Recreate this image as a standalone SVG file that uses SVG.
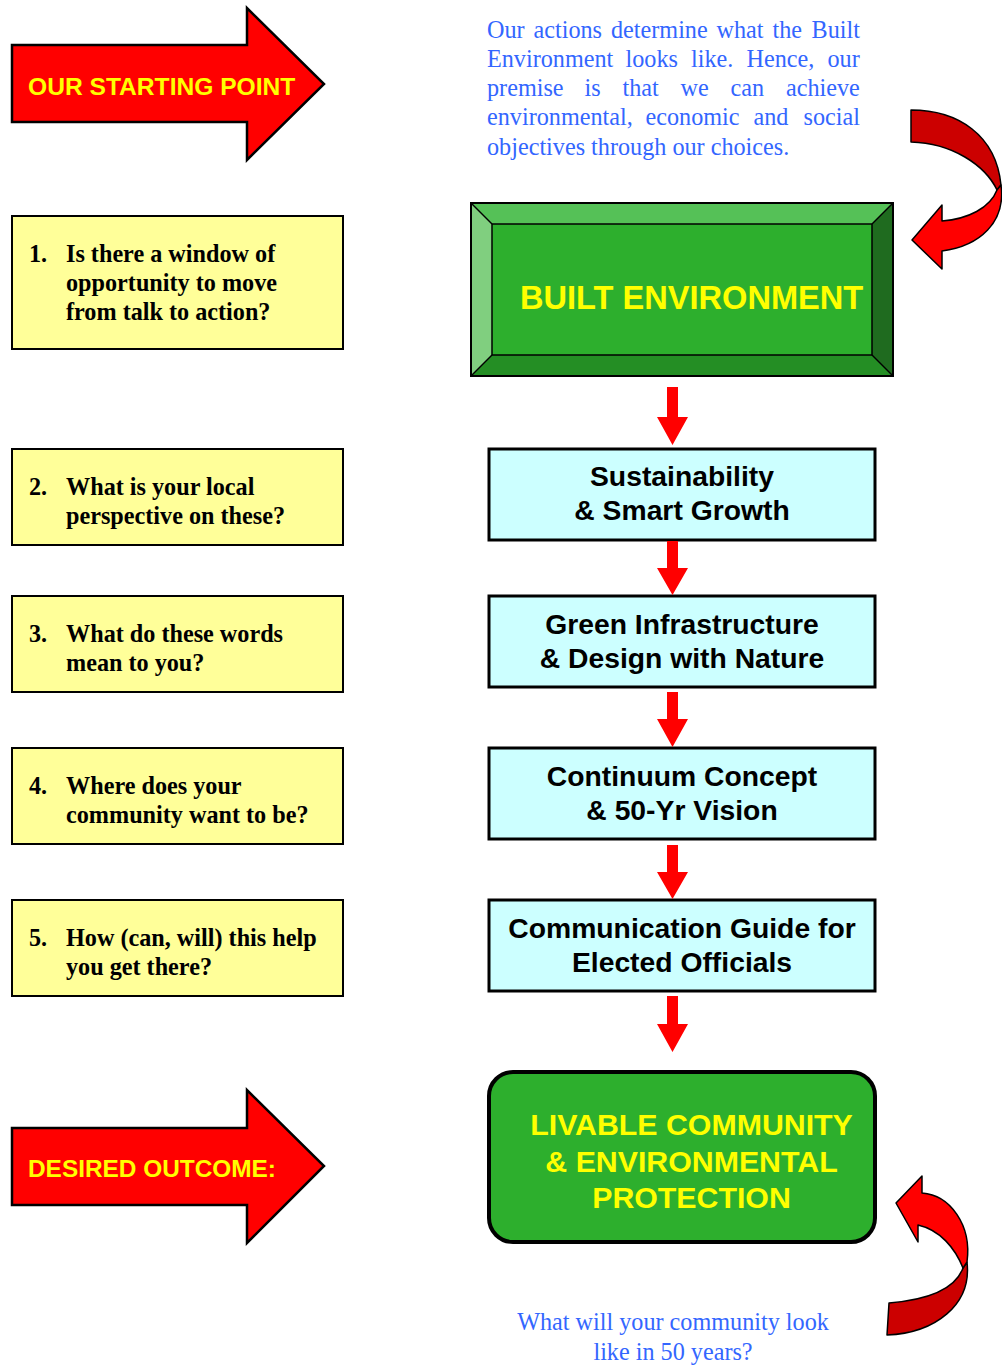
<svg xmlns="http://www.w3.org/2000/svg" width="1002" height="1366" viewBox="0 0 1002 1366">
<style>
.q{fill:#FFFF99;stroke:#000;stroke-width:2}
.qt{font-family:"Liberation Serif","Times New Roman",serif;font-weight:bold;font-size:24.2px;fill:#000}
.c{fill:#CCFFFF;stroke:#000;stroke-width:3}
.ct{font-family:"Liberation Sans",Arial,sans-serif;font-weight:bold;font-size:28.3px;fill:#000;text-anchor:middle}
.yt{font-family:"Liberation Sans",Arial,sans-serif;font-weight:bold;fill:#FFFF00}
.bt{font-family:"Liberation Serif","Times New Roman",serif;font-size:24.2px;fill:#3366FF}
.big{fill:#FF0000;stroke:#000;stroke-width:2.5;stroke-linejoin:miter}
.da{fill:#FF0000}
.cv{stroke:#000;stroke-width:1.5;stroke-linejoin:round}
</style>
<rect width="1002" height="1366" fill="#FFFFFF"/>

<g id="start">
<polygon class="big" points="12,45 247,45 247,8 324,84 247,160 247,122 12,122"/>
<text class="yt" x="28" y="95" font-size="24.6">OUR STARTING POINT</text>
</g>

<g id="premise">
<text class="bt" y="38"><tspan x="487">Our</tspan><tspan x="533.5">actions</tspan><tspan x="611">determine</tspan><tspan x="716.5">what</tspan><tspan x="772.5">the</tspan><tspan x="811.5">Built</tspan></text>
<text class="bt" y="67"><tspan x="487">Environment</tspan><tspan x="625.5">looks</tspan><tspan x="691">like.</tspan><tspan x="746.5">Hence,</tspan><tspan x="827.5">our</tspan></text>
<text class="bt" y="96"><tspan x="487">premise</tspan><tspan x="584.5">is</tspan><tspan x="622.5">that</tspan><tspan x="680.5">we</tspan><tspan x="730.5">can</tspan><tspan x="786">achieve</tspan></text>
<text class="bt" y="125"><tspan x="487">environmental,</tspan><tspan x="645.5">economic</tspan><tspan x="753.5">and</tspan><tspan x="803.5">social</tspan></text>
<text class="bt" x="487" y="155">objectives through our choices.</text>
</g>

<g id="curve-top">
<path class="cv" fill="#CC0000" d="M911,110 C958,110 996,135 1001,185 L997,190 C985,165 952,143 911,142 Z"/>
<path class="cv" fill="#FF0000" d="M997,190 L1001,185 C1006,222 980,246 942,251 L942,269 L912,240 L942,205 L942,221 C968,219 990,208 997,190 Z"/>
</g>

<g id="built">
<polygon fill="#55C157" points="471,203 893,203 872,224 492,224"/>
<polygon fill="#80CF7F" points="471,203 492,224 492,355 471,376"/>
<polygon fill="#1F6B1F" points="893,203 893,376 872,355 872,224"/>
<polygon fill="#248E24" points="471,376 492,355 872,355 893,376"/>
<rect x="492" y="224" width="380" height="131" fill="#2DAF2D" stroke="#000" stroke-width="1.5"/>
<g stroke="#000" stroke-width="1.5"><line x1="471" y1="203" x2="492" y2="224"/><line x1="893" y1="203" x2="872" y2="224"/><line x1="471" y1="376" x2="492" y2="355"/><line x1="893" y1="376" x2="872" y2="355"/></g>
<rect x="471" y="203" width="422" height="173" fill="none" stroke="#000" stroke-width="2"/>
<text class="yt" x="520" y="309" font-size="32.6">BUILT ENVIRONMENT</text>
</g>

<g id="q1">
<rect class="q" x="12" y="216" width="331" height="133"/>
<text class="qt"><tspan x="29" y="262">1.</tspan><tspan x="66" y="262">Is there a window of</tspan><tspan x="66" y="291">opportunity to move</tspan><tspan x="66" y="320">from talk to action?</tspan></text>
</g>
<g id="q2">
<rect class="q" x="12" y="449" width="331" height="96"/>
<text class="qt"><tspan x="29" y="495">2.</tspan><tspan x="66" y="495">What is your local</tspan><tspan x="66" y="524">perspective on these?</tspan></text>
</g>
<g id="q3">
<rect class="q" x="12" y="596" width="331" height="96"/>
<text class="qt"><tspan x="29" y="642">3.</tspan><tspan x="66" y="642">What do these words</tspan><tspan x="66" y="671">mean to you?</tspan></text>
</g>
<g id="q4">
<rect class="q" x="12" y="748" width="331" height="96"/>
<text class="qt"><tspan x="29" y="794">4.</tspan><tspan x="66" y="794">Where does your</tspan><tspan x="66" y="823">community want to be?</tspan></text>
</g>
<g id="q5">
<rect class="q" x="12" y="900" width="331" height="96"/>
<text class="qt"><tspan x="29" y="946">5.</tspan><tspan x="66" y="946">How (can, will) this help</tspan><tspan x="66" y="975">you get there?</tspan></text>
</g>

<g id="s1">
<rect class="c" x="489" y="449" width="386" height="91"/>
<text class="ct" x="682" y="486">Sustainability</text>
<text class="ct" x="682" y="520">&amp; Smart Growth</text>
</g>
<g id="s2">
<rect class="c" x="489" y="596" width="386" height="91"/>
<text class="ct" x="682" y="634">Green Infrastructure</text>
<text class="ct" x="682" y="668">&amp; Design with Nature</text>
</g>
<g id="s3">
<rect class="c" x="489" y="748" width="386" height="91"/>
<text class="ct" x="682" y="786">Continuum Concept</text>
<text class="ct" x="682" y="820">&amp; 50-Yr Vision</text>
</g>
<g id="s4">
<rect class="c" x="489" y="900" width="386" height="91"/>
<text class="ct" x="682" y="938">Communication Guide for</text>
<text class="ct" x="682" y="972">Elected Officials</text>
</g>

<g id="connectors">
<polygon class="da" points="667,387 678,387 678,417 688,417 672.5,445 657,417 667,417"/>
<polygon class="da" points="667,541 678,541 678,568 688,568 672.5,595 657,568 667,568"/>
<polygon class="da" points="667,692 678,692 678,719 688,719 672.5,747 657,719 667,719"/>
<polygon class="da" points="667,845 678,845 678,872 688,872 672.5,899 657,872 667,872"/>
<polygon class="da" points="667,996 678,996 678,1024 688,1024 672.5,1052 657,1024 667,1024"/>
</g>

<g id="outcome-arrow">
<polygon class="big" points="12,1128 247,1128 247,1090 324,1166 247,1243 247,1205 12,1205"/>
<text class="yt" x="28" y="1177" font-size="24.4">DESIRED OUTCOME:</text>
</g>

<g id="livable">
<rect x="489" y="1072" width="386" height="170" rx="24" ry="24" fill="#2DAF2D" stroke="#000" stroke-width="4"/>
<text class="yt" x="691.5" y="1135" font-size="30.3" text-anchor="middle">LIVABLE COMMUNITY</text>
<text class="yt" x="691.5" y="1172" font-size="30.3" text-anchor="middle">&amp; ENVIRONMENTAL</text>
<text class="yt" x="691.5" y="1208" font-size="30.3" text-anchor="middle">PROTECTION</text>
</g>

<g id="curve-bottom">
<path class="cv" fill="#CC0000" d="M889,1303 C925,1300 955,1290 963,1268 L967,1262 C972,1305 935,1333 887,1335 Z"/>
<path class="cv" fill="#FF0000" d="M963,1268 C955,1248 940,1230 918,1225 L918,1242 L896,1203 L922,1176 L922,1193 C950,1195 972,1225 967,1262 Z"/>
</g>

<g id="question">
<text class="bt" x="673" y="1330" text-anchor="middle">What will your community look</text>
<text class="bt" x="673" y="1360" text-anchor="middle">like in 50 years?</text>
</g>
</svg>
